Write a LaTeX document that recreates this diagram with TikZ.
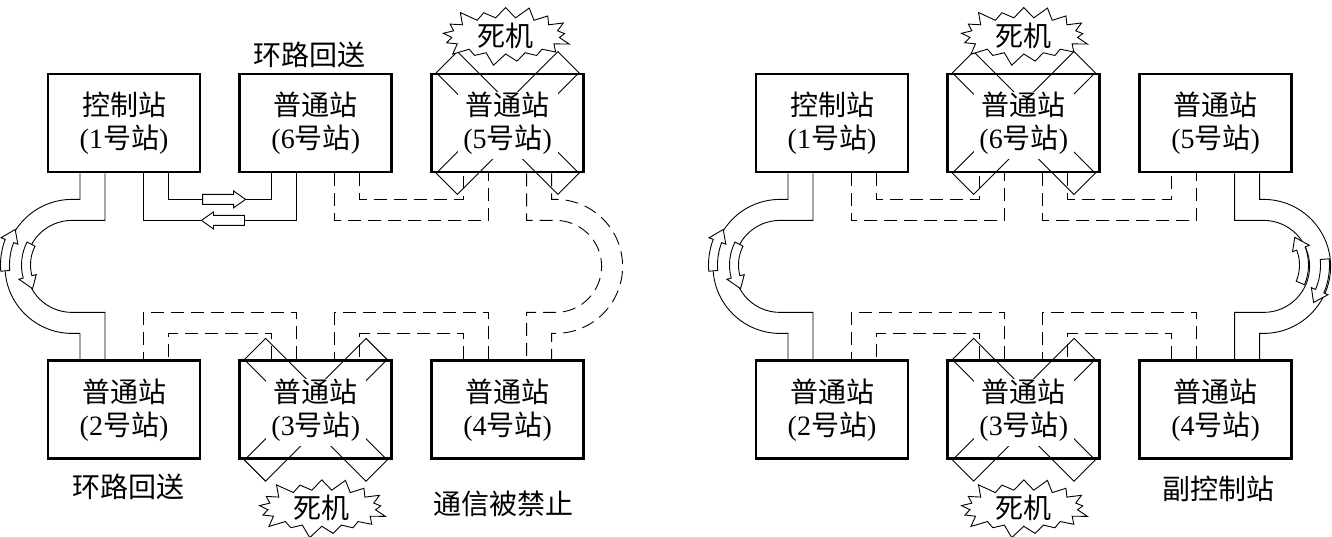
\documentclass[tikz,border=0pt]{standalone}
\usepackage{fontspec}
\setmainfont{Liberation Serif}
\newfontfamily\cjk{Noto Sans CJK SC}
\usetikzlibrary{positioning, shapes.symbols, backgrounds}
\tikzstyle{station} = [rectangle, minimum width=152pt, minimum height=98pt, draw=black, line width=2.8pt, align=center, inner sep=0pt, font=\fontsize{28}{33}\selectfont]
\tikzstyle{link} = [line width=0.9pt]
\tikzstyle{idle} = [line width=0.9pt, dash pattern=on 13pt off 7pt]
\tikzstyle{note} = [inner sep=0pt, font=\fontsize{28}{33}\selectfont\cjk]
\tikzstyle{crash} = [starburst, draw, line width=0.9pt, fill=white, starburst points=17, starburst point height=14pt, minimum width=136pt, minimum height=58pt, inner sep=0pt, font=\fontsize{28}{33}\selectfont\cjk]
\begin{document}
\begin{tikzpicture}[x=1pt, y=1pt, node distance=186pt and 37pt]
\useasboundingbox (0,0) rectangle (1332,-537);

% Left ring: stations 5 and 3 dead
\node (l1) [station] at (124,-123) {{\cjk 控制站}\\(1{\cjk 号站})};
\node (l6) [station, right=of l1] {{\cjk 普通站}\\(6{\cjk 号站})};
\node (l5) [station, right=of l6] {{\cjk 普通站}\\(5{\cjk 号站})};
\node (l2) [station, below=of l1] {{\cjk 普通站}\\(2{\cjk 号站})};
\node (l3) [station, right=of l2] {{\cjk 普通站}\\(3{\cjk 号站})};
\node (l4) [station, right=of l3] {{\cjk 普通站}\\(4{\cjk 号站})};

% Right ring: stations 6 and 3 dead
\node (r1) [station] at (832,-123) {{\cjk 控制站}\\(1{\cjk 号站})};
\node (r6) [station, right=of r1] {{\cjk 普通站}\\(6{\cjk 号站})};
\node (r5) [station, right=of r6] {{\cjk 普通站}\\(5{\cjk 号站})};
\node (r2) [station, below=of r1] {{\cjk 普通站}\\(2{\cjk 号站})};
\node (r3) [station, right=of r2] {{\cjk 普通站}\\(3{\cjk 号站})};
\node (r4) [station, right=of r3] {{\cjk 普通站}\\(4{\cjk 号站})};

% Labels
\node (lloop1) [note, above=5pt of l6, xshift=-6pt] {环路回送};
\node (lloop2) [note, below=14pt of l2, xshift=4pt] {环路回送};
\node (lblock) [note, below=31pt of l4, xshift=-4pt] {通信被禁止};
\node (rsub) [note, below=16pt of r4, xshift=3pt] {副控制站};

\node (lcrash5) [crash, above=18pt of l5, xshift=-2pt] {死机};
\node (lcrash3) [crash, below=19pt of l3, xshift=6pt] {死机};
\node (rcrash6) [crash, above=18pt of r6] {死机};
\node (rcrash3) [crash, below=19pt of r3] {死机};

% Crossed-out stations
\begin{scope}[on background layer]
\foreach \s in {l5,l3,r6,r3} {
  \draw[link, shift={(\s)}, rotate=45] (-86,-15) rectangle (86,15);
  \draw[link, shift={(\s)}, rotate=-45] (-86,-15) rectangle (86,15);
  \fill[white, shift={(\s)}] (-50,-36) rectangle (50,31);
}
\end{scope}

% Left ring connections
\draw [link] ([xshift=44pt]l1.south) -- ++(0,-26) -| coordinate[pos=0.27] (fa1) ([xshift=-44pt]l6.south);
\draw [link] ([xshift=19pt]l1.south) -- ++(0,-47) -| coordinate[pos=0.26] (fa2) ([xshift=-19pt]l6.south);
\draw [link] ([xshift=-44pt]l1.south) -- ++(0,-26) -- ++(-8,0) arc[start angle=90, end angle=270, radius=67] -| ([xshift=-44pt]l2.north);
\draw [link] ([xshift=-19pt]l1.south) -- ++(0,-47) -- ++(-33,0) arc[start angle=90, end angle=270, radius=46] -| ([xshift=-19pt]l2.north);
\draw [idle] ([xshift=44pt]l6.south) -- ++(0,-26) -| ([xshift=-44pt]l5.south);
\draw [idle] ([xshift=19pt]l6.south) -- ++(0,-47) -| ([xshift=-19pt]l5.south);
\draw [idle] ([xshift=44pt]l5.south) -- ++(0,-26) -- ++(4,0) arc[start angle=90, end angle=-90, radius=67] -| ([xshift=44pt]l4.north);
\draw [idle] ([xshift=19pt]l5.south) -- ++(0,-47) -- ++(29,0) arc[start angle=90, end angle=-90, radius=46] -| ([xshift=19pt]l4.north);
\draw [idle] ([xshift=-44pt]l4.north) -- ++(0,26) -| ([xshift=44pt]l3.north);
\draw [idle] ([xshift=-19pt]l4.north) -- ++(0,47) -| ([xshift=19pt]l3.north);
\draw [idle] ([xshift=-44pt]l3.north) -- ++(0,26) -| ([xshift=44pt]l2.north);
\draw [idle] ([xshift=-19pt]l3.north) -- ++(0,47) -| ([xshift=19pt]l2.north);

% Hollow arrows between station 1 and 6
\filldraw[link, fill=white, shift={(fa1)}] (-21.5,-5) -- (9.5,-5) -- (9.5,-8.5) -- (21.5,0) -- (9.5,8.5) -- (9.5,5) -- (-21.5,5) -- cycle;
\filldraw[link, fill=white, shift={(fa2)}, xscale=-1] (-21.5,-5) -- (9.5,-5) -- (9.5,-8.5) -- (21.5,0) -- (9.5,8.5) -- (9.5,5) -- (-21.5,5) -- cycle;

% Right ring connections
\draw [link] ([xshift=-44pt]r1.south) -- ++(0,-26) -- ++(-8,0) arc[start angle=90, end angle=270, radius=67] -| ([xshift=-44pt]r2.north);
\draw [link] ([xshift=-19pt]r1.south) -- ++(0,-47) -- ++(-33,0) arc[start angle=90, end angle=270, radius=46] -| ([xshift=-19pt]r2.north);
\draw [idle] ([xshift=44pt]r1.south) -- ++(0,-26) -| ([xshift=-44pt]r6.south);
\draw [idle] ([xshift=19pt]r1.south) -- ++(0,-47) -| ([xshift=-19pt]r6.south);
\draw [idle] ([xshift=44pt]r6.south) -- ++(0,-26) -| ([xshift=-44pt]r5.south);
\draw [idle] ([xshift=19pt]r6.south) -- ++(0,-47) -| ([xshift=-19pt]r5.south);
\draw [link] ([xshift=44pt]r5.south) -- ++(0,-26) -- ++(4,0) arc[start angle=90, end angle=-90, radius=67] -| ([xshift=44pt]r4.north);
\draw [link] ([xshift=19pt]r5.south) -- ++(0,-47) -- ++(29,0) arc[start angle=90, end angle=-90, radius=46] -| ([xshift=19pt]r4.north);
\draw [idle] ([xshift=-44pt]r4.north) -- ++(0,26) -| ([xshift=44pt]r3.north);
\draw [idle] ([xshift=-19pt]r4.north) -- ++(0,47) -| ([xshift=19pt]r3.north);
\draw [idle] ([xshift=-44pt]r3.north) -- ++(0,26) -| ([xshift=44pt]r2.north);
\draw [idle] ([xshift=-19pt]r3.north) -- ++(0,47) -| ([xshift=19pt]r2.north);

% Hollow arrows on the loop-back arcs
\foreach \cx/\r/\a/\b/\c in {72/67/185/159/148, 72/46/153/195/211, 780/67/185/159/148, 780/46/153/195/211, 1258/46/-23/21/37, 1258/67/5/-23/-34}
  \filldraw[link, fill=white, shift={(\cx,-265)}] (\a:{\r+4.5}) arc[start angle=\a, end angle=\b, radius={\r+4.5}] -- (\b:{\r+9}) -- (\c:\r) -- (\b:{\r-9}) -- (\b:{\r-4.5}) arc[start angle=\b, end angle=\a, radius={\r-4.5}] -- cycle;

\end{tikzpicture}
\end{document}
